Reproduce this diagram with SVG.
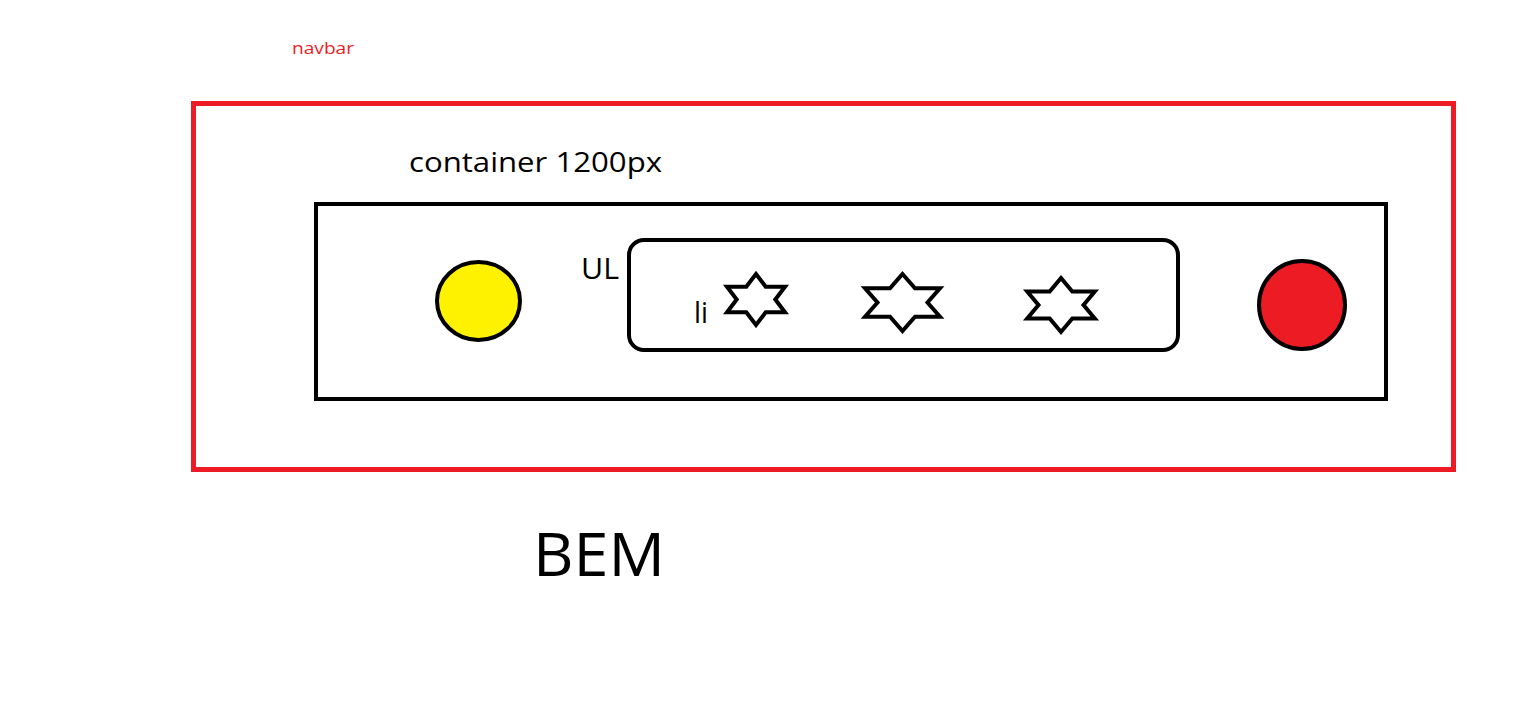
<svg xmlns="http://www.w3.org/2000/svg" width="1534" height="727" viewBox="0 0 1534 727">
  <style>
    .lbl { font-family: "Open Sans", "Noto Sans", sans-serif; fill: #000; }
    .outline { fill: none; stroke: #000; stroke-width: 4; }
    .star { fill: #fff; stroke: #000; stroke-width: 4; stroke-linejoin: miter; }
    .dot { stroke: #000; stroke-width: 4; }
  </style>
  <rect width="1534" height="727" fill="#fff"/>

  <!-- navbar frame -->
  <g id="navbar">
    <text class="lbl" x="292" y="54" font-size="16.5" style="fill:#ED1C24" textLength="62" lengthAdjust="spacingAndGlyphs">navbar</text>
    <rect x="193.5" y="103.5" width="1260" height="366" fill="none" stroke="#ED1C24" stroke-width="5"/>
  </g>

  <!-- 1200px container -->
  <g id="container">
    <text class="lbl" x="409" y="172" font-size="28" textLength="253" lengthAdjust="spacingAndGlyphs">container 1200px</text>
    <rect class="outline" x="316" y="204" width="1070" height="195"/>
  </g>

  <!-- logo -->
  <g id="logo">
    <ellipse class="dot" cx="478.5" cy="301" rx="41.5" ry="39" fill="#FFF200"/>
  </g>

  <!-- list -->
  <g id="ul">
    <text class="lbl" x="581" y="279" font-size="29" textLength="38" lengthAdjust="spacingAndGlyphs">UL</text>
    <rect class="outline" x="629" y="240" width="549" height="110" rx="15" ry="15"/>
  </g>

  <!-- list items -->
  <g id="li">
    <text class="lbl" x="694" y="323" font-size="29" textLength="14" lengthAdjust="spacingAndGlyphs">li</text>
    <polygon id="li-1" class="star" points="756,274 765.7,286.75 785,286.75 775.3,299.5 785,312.25 765.7,312.25 756,325 746.3,312.25 727,312.25 736.7,299.5 727,286.75 746.3,286.75"/>
    <polygon id="li-2" class="star" points="902.5,274 915,288.25 940,288.25 927.5,302.5 940,316.75 915,316.75 902.5,331 890,316.75 865,316.75 877.5,302.5 865,288.25 890,288.25"/>
    <polygon id="li-3" class="star" points="1061,278 1072.3,291.5 1094.8,291.5 1083.5,305 1094.8,318.5 1072.3,318.5 1061,332 1049.7,318.5 1027.2,318.5 1038.5,305 1027.2,291.5 1049.7,291.5"/>
  </g>

  <!-- action button -->
  <g id="button">
    <ellipse class="dot" cx="1302" cy="305" rx="43" ry="44" fill="#ED1C24"/>
  </g>

  <g id="connectors"></g>

  <g id="title">
    <text class="lbl" x="533" y="576" font-size="61" textLength="132" lengthAdjust="spacingAndGlyphs">BEM</text>
  </g>
</svg>
